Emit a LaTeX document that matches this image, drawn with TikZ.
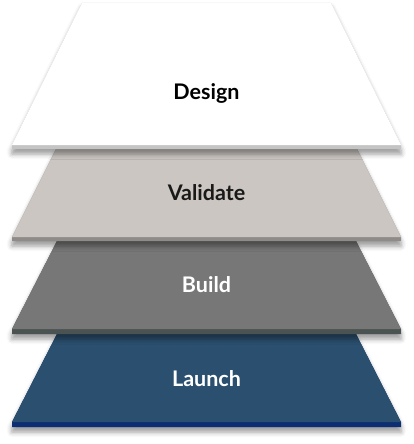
\documentclass[tikz,border=0pt]{standalone}
\usepackage{fontspec}
\setmainfont{Lato}
\usetikzlibrary{shadows.blur}

\definecolor{designface}{HTML}{FFFFFF}
\definecolor{designedge}{HTML}{C4C4C4}
\definecolor{validateface}{HTML}{CBC6C2}
\definecolor{validateedge}{HTML}{8E8B89}
\definecolor{buildface}{HTML}{777777}
\definecolor{buildedge}{HTML}{4A5351}
\definecolor{launchface}{HTML}{2B4F6E}
\definecolor{launchedge}{HTML}{0D2E72}

\begin{document}
\begin{tikzpicture}[x=1pt,y=-1pt,
	layershadow/.style={blur shadow={shadow xshift=0pt,shadow yshift=-5pt,
		shadow blur radius=5pt,shadow opacity=40}}]
	\useasboundingbox (0,0) rectangle (413,444);

	% layers, bottom one first
	\begin{scope}
		\path [fill=launchedge,layershadow] (57,334) -- (356,334) -- (401,422) -- (401,427) -- (12,427) -- (12,422) -- cycle;
		\path [fill=launchface] (57,334) -- (356,334) -- (401,422) -- (12,422) -- cycle;

		\path [fill=buildedge,layershadow] (57,241) -- (356,241) -- (401,329) -- (401,334) -- (12,334) -- (12,329) -- cycle;
		\path [fill=buildface] (57,241) -- (356,241) -- (401,329) -- (12,329) -- cycle;

		\path [fill=validateedge,layershadow] (56,149) -- (357,149) -- (401,237) -- (401,241) -- (12,241) -- (12,237) -- cycle;
		\path [fill=validateface] (56,149) -- (357,149) -- (401,237) -- (12,237) -- cycle;

		\path [fill=designedge,layershadow] (82,3) -- (331,3) -- (401,145) -- (401,149) -- (12,149) -- (12,145) -- cycle;
		\path [fill=designface] (82,3) -- (331,3) -- (401,145) -- (12,145) -- cycle;
	\end{scope}

	\begin{scope}[every node/.style={font=\bfseries\fontsize{21.5}{25}\selectfont}]
		\node (design) at (206.5,93) {Design};
		\node [text=black!90] (validate) at (206.5,193) {Validate};
		\node [text=white] (build) at (206.5,285) {Build};
		\node [text=white] (launch) at (206.5,379) {Launch};
	\end{scope}
\end{tikzpicture}
\end{document}
